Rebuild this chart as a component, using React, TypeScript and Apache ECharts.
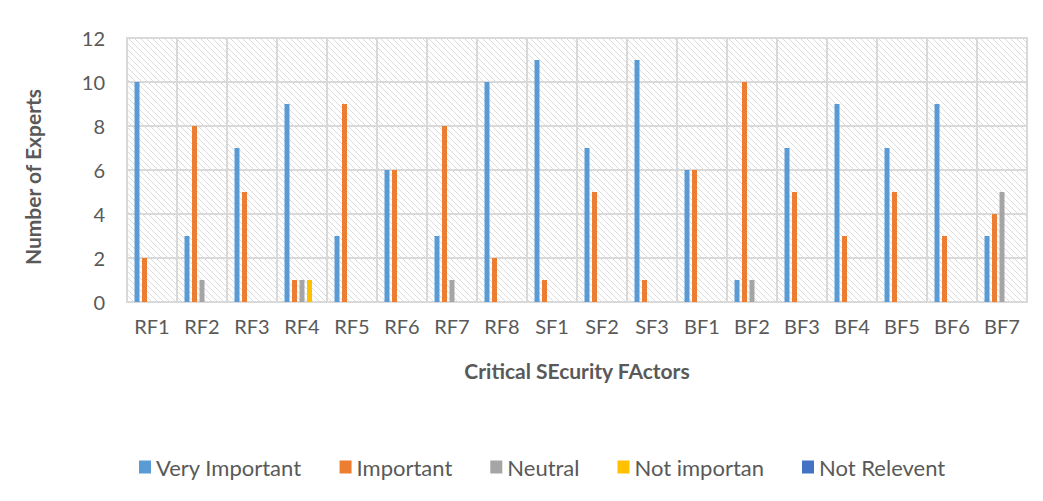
import React, { useEffect, useRef } from "react";
import * as echarts from "echarts";

const categories = ["RF1","RF2","RF3","RF4","RF5","RF6","RF7","RF8","SF1","SF2","SF3","BF1","BF2","BF3","BF4","BF5","BF6","BF7"];
const veryImportant = [10,3,7,9,3,6,3,10,11,7,11,6,1,7,9,7,9,3];
const important =     [2,8,5,1,9,6,8,2,1,5,1,6,10,5,3,5,3,4];
const neutral =       [0,1,0,1,0,0,1,0,0,0,0,0,1,0,0,0,0,5];
const notImportant =  [0,0,0,1,0,0,0,0,0,0,0,0,0,0,0,0,0,0];
const notRelevant =   [0,0,0,0,0,0,0,0,0,0,0,0,0,0,0,0,0,0];
const yTicks = { min: 0, max: 12, interval: 2 };

const FONT = "Lato, 'Open Sans', sans-serif";

function makeHatch(): string {
  const c = document.createElement("canvas");
  const s = 6;
  c.width = s; c.height = s;
  const ctx = c.getContext("2d")!;
  ctx.fillStyle = "#ffffff";
  ctx.fillRect(0, 0, s, s);
  ctx.strokeStyle = "#dcdcdc";
  ctx.lineWidth = 1;
  ctx.beginPath();
  ctx.moveTo(-1, -1); ctx.lineTo(s + 1, s + 1);
  ctx.moveTo(-1, s - 1); ctx.lineTo(1, s + 1);
  ctx.moveTo(s - 1, -1); ctx.lineTo(s + 1, 1);
  ctx.stroke();
  return c.toDataURL();
}

export default function App() {
  const ref = useRef<HTMLDivElement>(null);
  useEffect(() => {
    document.body.style.margin = "0";
    const chart = echarts.init(ref.current!, null, { renderer: "svg" });
    const bar = (name: string, data: number[], color: string) => ({
      name, type: "bar", data, barWidth: 5, barGap: "50%", barCategoryGap: "30%",
      itemStyle: { color },
    });
    chart.setOption({
      animation: false,
      backgroundColor: "#ffffff",
      textStyle: { fontFamily: FONT },
      grid: {
        left: 127, right: 16, top: 38, bottom: 199,
        show: true, borderColor: "#d9d9d9", borderWidth: 2,
        backgroundColor: { image: makeHatch(), repeat: "repeat" },
      },
      legend: {
        top: 451, left: 134, itemWidth: 12, itemHeight: 13, itemGap: 38,
        icon: "rect",
        textStyle: { fontSize: 22, color: "#595959", fontFamily: FONT },
        data: ["Very Important", "Important", "Neutral", "Not importan", "Not Relevent"],
      },
      xAxis: {
        type: "category", data: categories,
        name: "Critical SEcurity FActors", nameLocation: "middle", nameGap: 58,
        nameTextStyle: { fontSize: 21, fontWeight: "bold", color: "#595959", fontFamily: FONT },
        axisLine: { show: true, lineStyle: { color: "#d9d9d9", width: 2 } },
        axisTick: { show: false },
        axisLabel: { fontSize: 20, color: "#595959", margin: 14 },
        splitLine: { show: true, lineStyle: { color: "#d9d9d9", width: 2 } },
      },
      yAxis: {
        type: "value", ...yTicks,
        name: "Number of Experts", nameLocation: "middle", nameGap: 84, nameRotate: 90,
        nameTextStyle: { fontSize: 21, fontWeight: "bold", color: "#595959", fontFamily: FONT, padding: [0, 14, 0, 0] },
        axisLine: { show: false }, axisTick: { show: false },
        axisLabel: { fontSize: 20, color: "#595959", margin: 22 },
        splitLine: { lineStyle: { color: "#d9d9d9", width: 2 } },
      },
      series: [
        bar("Very Important", veryImportant, "#5B9BD5"),
        bar("Important", important, "#ED7D31"),
        bar("Neutral", neutral, "#A5A5A5"),
        bar("Not importan", notImportant, "#FFC000"),
        bar("Not Relevent", notRelevant, "#4472C4"),
      ],
    });
    return () => chart.dispose();
  }, []);
  return <div ref={ref} style={{ width: 1043, height: 501 }} />;
}
